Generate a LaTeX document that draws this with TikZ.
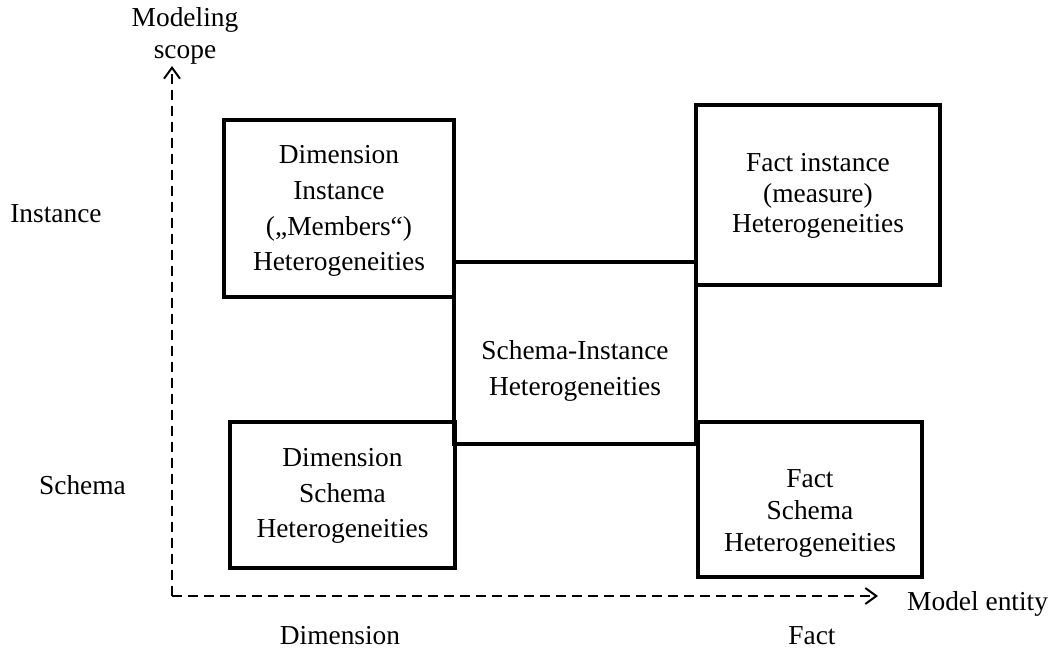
\documentclass[tikz,border=0pt]{standalone}
\usepackage{fontspec}
\setmainfont{Liberation Serif}
\usetikzlibrary{arrows.meta}
\begin{document}
\begin{tikzpicture}[x=1bp,y=-1bp,
  txt/.style={font=\fontsize{27.5}{#1}\selectfont,align=center,inner sep=0pt},
  txt/.default=34,
  box/.style={draw,line width=4bp,inner sep=0pt},
  axis/.style={line width=2bp,dash pattern=on 10bp off 6bp,
    -{Straight Barb[length=11bp,width=16bp,line width=2bp]}}]
\useasboundingbox (0,0) rectangle (1059,651);
% axes
\coordinate (o) at (172,596);
\coordinate (ytop) at (172,66);
\coordinate (xend) at (878,596);
\draw[axis] (o) -- (ytop);
\draw[axis] (o) -- (xend);
% boxes
\node[box,minimum width=230bp,minimum height=177bp] (di) at (339,208.5) {};
\node[box,minimum width=242bp,minimum height=182bp] (si) at (575,353) {};
\node[box,minimum width=244bp,minimum height=180bp] (fi) at (818,195) {};
\node[box,minimum width=225bp,minimum height=146bp] (ds) at (342.5,495) {};
\node[box,minimum width=224bp,minimum height=155bp] (fs) at (810,499.5) {};
% box texts
\node[txt=36] (dit) at ([yshift=-2.5bp]di.center)
  {Dimension\\Instance\\(„Members“)\\Heterogeneities};
\node[txt=35.5] (sit) at ([yshift=-18bp]si.center)
  {Schema-Instance\\Heterogeneities};
\node[txt=31] (fit) at ([yshift=-1bp]fi.center)
  {Fact instance\\(measure)\\Heterogeneities};
\node[txt=35.5] (dst) at ([yshift=-1bp]ds.center)
  {Dimension\\Schema\\Heterogeneities};
\node[txt=32] (fst) at ([yshift=-14bp]fs.center)
  {Fact\\Schema\\Heterogeneities};
% labels
\node[txt=32] (ms) at (185,36) {Modeling\\scope};
\node[txt] (li) at (56,213.5) {Instance};
\node[txt] (ls) at (82.5,485) {Schema};
\node[txt] (ld) at (340,635.5) {Dimension};
\node[txt] (lf) at (812,635.5) {Fact};
\node[txt,anchor=west] (me) at (907,604) {Model entity};
\end{tikzpicture}
\end{document}
